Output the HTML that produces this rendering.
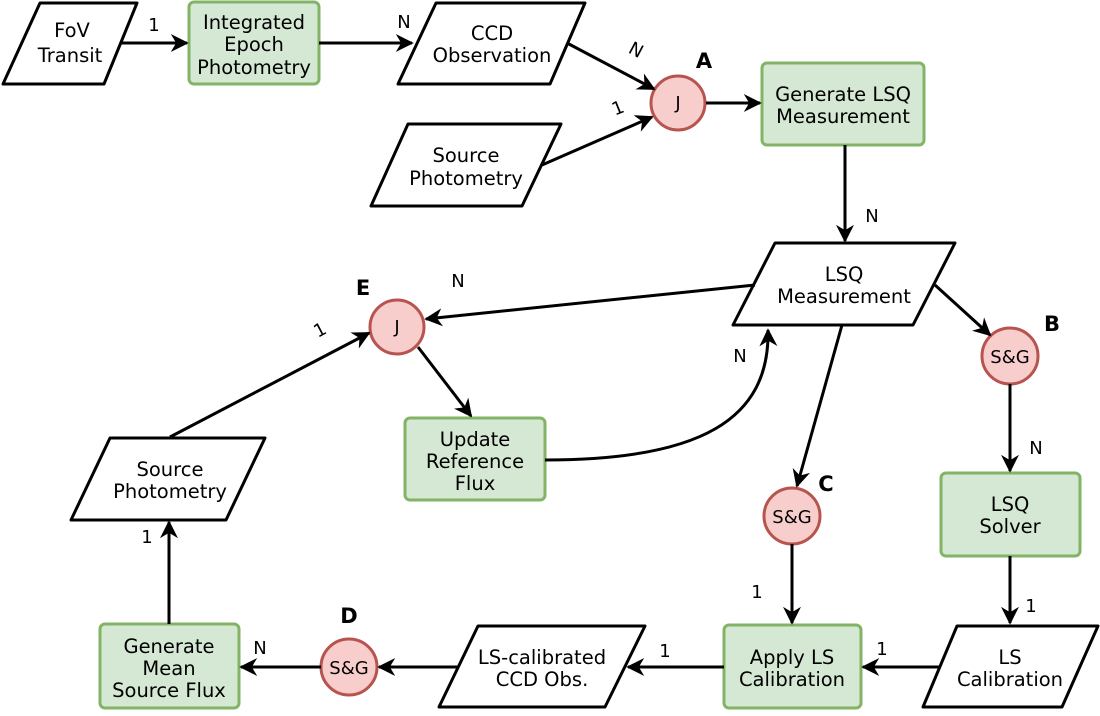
<!DOCTYPE html>
<html><head><meta charset="utf-8"><style>
html,body{margin:0;padding:0;background:#fff}
svg text{font-family:"DejaVu Sans","Liberation Sans",sans-serif;font-size:19.5px;fill:#000;text-anchor:middle}
svg text.b{font-weight:bold;font-size:21px}
svg text.c{font-size:18px}
svg text.l{font-size:18px}
</style></head><body>
<svg width="1100" height="711" viewBox="0 0 1100 711" xmlns="http://www.w3.org/2000/svg">
<defs>
<marker id="m" viewBox="0 0 10 10" refX="9" refY="5" markerWidth="18" markerHeight="18" markerUnits="userSpaceOnUse" orient="auto">
<path d="M0,0 L10,5 L0,10 L3,5 Z" fill="#000"/></marker>
</defs>
<g fill="#fff" stroke="#000" stroke-width="3" stroke-linejoin="round">
<path d="M40,3 H137 L104,84 H3 Z"/>
<path d="M436,3 H585 L550,84 H398 Z"/>
<path d="M408,124 H561 L522,206 H371 Z"/>
<path d="M775,243 H955 L913,325 H733 Z"/>
<path d="M110,438 H265 L226,520 H71 Z"/>
<path d="M957,626 H1098 L1062,707 H923 Z"/>
<path d="M478,626 H645 L605,707 H439 Z"/>
</g>
<g fill="#d5e8d4" stroke="#82b366" stroke-width="3">
<rect x="189" y="2" width="130" height="82" rx="5"/>
<rect x="762" y="63" width="162" height="82" rx="5"/>
<rect x="405" y="418" width="140" height="82" rx="5"/>
<rect x="941" y="473" width="139" height="83" rx="5"/>
<rect x="724" y="625" width="137" height="83" rx="5"/>
<rect x="100" y="624" width="139" height="84" rx="5"/>
</g>
<g fill="#f8cecc" stroke="#b85450" stroke-width="3">
<circle cx="678" cy="103" r="27"/>
<circle cx="397" cy="327" r="27"/>
<circle cx="1010" cy="356" r="28"/>
<circle cx="792" cy="516" r="28"/>
<circle cx="349" cy="667" r="28"/>
</g>
<g stroke="#000" stroke-width="3" fill="none" marker-end="url(#m)">
<line x1="120" y1="43" x2="187" y2="43"/>
<line x1="319" y1="43" x2="412" y2="43"/>
<line x1="567" y1="43" x2="654" y2="89"/>
<line x1="542" y1="165" x2="652" y2="117"/>
<line x1="706" y1="103" x2="760" y2="103"/>
<line x1="845" y1="145" x2="845" y2="241"/>
<line x1="755" y1="285" x2="426" y2="319"/>
<line x1="170" y1="437" x2="369" y2="333"/>
<line x1="418" y1="347" x2="471" y2="416"/>
<path d="M545,460 C700,460 770,420 768,330"/>
<line x1="935" y1="285" x2="990" y2="335"/>
<line x1="1010" y1="384" x2="1010" y2="471"/>
<line x1="842" y1="325" x2="797" y2="486"/>
<line x1="792" y1="544" x2="792" y2="623"/>
<line x1="1010" y1="556" x2="1010" y2="623"/>
<line x1="940" y1="667" x2="863" y2="667"/>
<line x1="724" y1="667" x2="628" y2="667"/>
<line x1="458" y1="667" x2="379" y2="667"/>
<line x1="321" y1="667" x2="241" y2="667"/>
<line x1="169" y1="624" x2="169" y2="522"/>
</g>
<text x="72" y="37">FoV</text><text x="70" y="62">Transit</text>
<text x="254" y="29">Integrated</text><text x="254" y="51">Epoch</text><text x="254" y="74">Photometry</text>
<text x="492" y="40">CCD</text><text x="492" y="62">Observation</text>
<text x="466" y="162">Source</text><text x="466" y="185">Photometry</text>
<text x="678" y="109" class="c">J</text>
<text x="843" y="101">Generate LSQ</text><text x="843" y="123">Measurement</text>
<text x="844" y="281">LSQ</text><text x="844" y="303">Measurement</text>
<text x="397" y="333" class="c">J</text>
<text x="1010" y="363" class="c">S&amp;G</text>
<text x="475" y="446">Update</text><text x="475" y="468">Reference</text><text x="475" y="490">Flux</text>
<text x="170" y="476">Source</text><text x="170" y="498">Photometry</text>
<text x="792" y="523" class="c">S&amp;G</text>
<text x="1010" y="511">LSQ</text><text x="1010" y="533">Solver</text>
<text x="792" y="664">Apply LS</text><text x="792" y="686">Calibration</text>
<text x="1010" y="664">LS</text><text x="1010" y="686">Calibration</text>
<text x="542" y="664">LS-calibrated</text><text x="542" y="686">CCD Obs.</text>
<text x="349" y="674" class="c">S&amp;G</text>
<text x="169" y="653">Generate</text><text x="169" y="675">Mean</text><text x="169" y="697">Source Flux</text>
<text x="704" y="68" class="b">A</text>
<text x="363" y="295" class="b">E</text>
<text x="1052" y="331" class="b">B</text>
<text x="826" y="491" class="b">C</text>
<text x="349" y="623" class="b">D</text>
<text x="154" y="31" class="l">1</text>
<text x="404" y="28" class="l">N</text>
<text x="636" y="56" class="l" transform="rotate(28 636 50)">N</text>
<text x="618" y="114" class="l" transform="rotate(-22 618 108)">1</text>
<text x="872" y="222" class="l">N</text>
<text x="458" y="287" class="l">N</text>
<text x="320" y="336" class="l" transform="rotate(-28 320 330)">1</text>
<text x="740" y="362" class="l">N</text>
<text x="1036" y="454" class="l">N</text>
<text x="757" y="598" class="l">1</text>
<text x="1031" y="612" class="l">1</text>
<text x="882" y="655" class="l">1</text>
<text x="665" y="657" class="l">1</text>
<text x="260" y="654" class="l">N</text>
<text x="147" y="543" class="l">1</text>
</svg>
</body></html>
